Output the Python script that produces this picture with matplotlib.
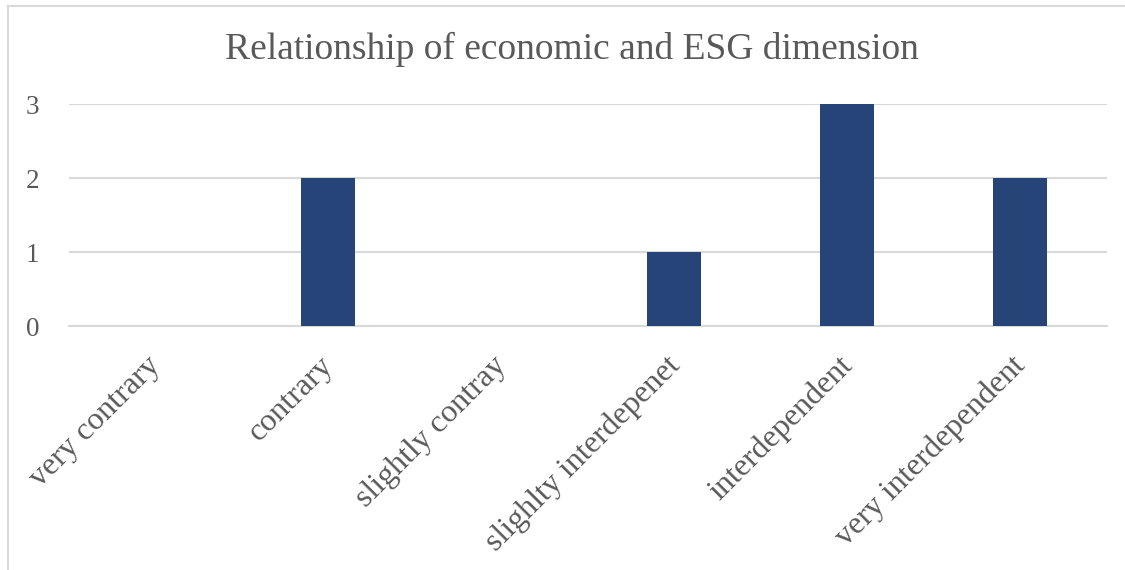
import matplotlib
matplotlib.use("Agg")
import matplotlib.pyplot as plt
from matplotlib.lines import Line2D
from matplotlib.transforms import ScaledTranslation

categories = ["very contrary", "contrary", "slightly contray",
              "slighlty interdepenet", "interdependent", "very interdependent"]
counts = [0, 2, 0, 1, 3, 2]
y_ticks = [0, 1, 2, 3]
title = "Relationship of economic and ESG dimension"

W, H = 1125, 570
fig = plt.figure(figsize=(W / 100, H / 100), dpi=100)
plt.rcParams["font.family"] = ["Liberation Serif", "DejaVu Serif"]
text_color = "#595959"
grid_color = "#d9d9d9"
bar_color = "#264478"

ax = fig.add_axes([68.5 / W, (H - 326) / H, (1106.5 - 68.5) / W, (326 - 104) / H])
x = list(range(len(categories)))
ax.bar(x, counts, width=0.31, color=bar_color, zorder=3)
ax.set_xlim(-0.5, len(categories) - 0.5)
ax.set_ylim(0, 3)
ax.set_yticks(y_ticks)
ax.set_yticklabels([str(v) for v in y_ticks], fontsize=19.5, color=text_color)
ax.tick_params(axis="y", length=0, pad=21)
ax.yaxis.grid(True, color=grid_color, linewidth=1.5, zorder=0)
ax.set_axisbelow(True)
for s in ax.spines.values():
    s.set_visible(False)
ax.spines["bottom"].set_visible(True)
ax.spines["bottom"].set_color(grid_color)
ax.spines["bottom"].set_linewidth(1.5)

ax.set_xticks(x)
ax.set_xticklabels(categories, fontsize=23, color=text_color, rotation=45,
                   ha="right", va="top", rotation_mode="anchor")
ax.tick_params(axis="x", length=0, pad=18)
shift = ScaledTranslation(-9 / 100, 0, fig.dpi_scale_trans)
for lbl in ax.get_xticklabels():
    lbl.set_transform(lbl.get_transform() + shift)

fig.text(572 / W, 1 - 49 / H, title, fontsize=27, color=text_color,
         ha="center", va="center")

# chart frame
fig.add_artist(Line2D([8 / W, 8 / W], [0, 1 - 6 / H], transform=fig.transFigure,
                      color=grid_color, linewidth=1.5))
fig.add_artist(Line2D([8 / W, 1], [1 - 6 / H, 1 - 6 / H], transform=fig.transFigure,
                      color=grid_color, linewidth=1.5))

fig.savefig("out.png", dpi=100, facecolor="white")
